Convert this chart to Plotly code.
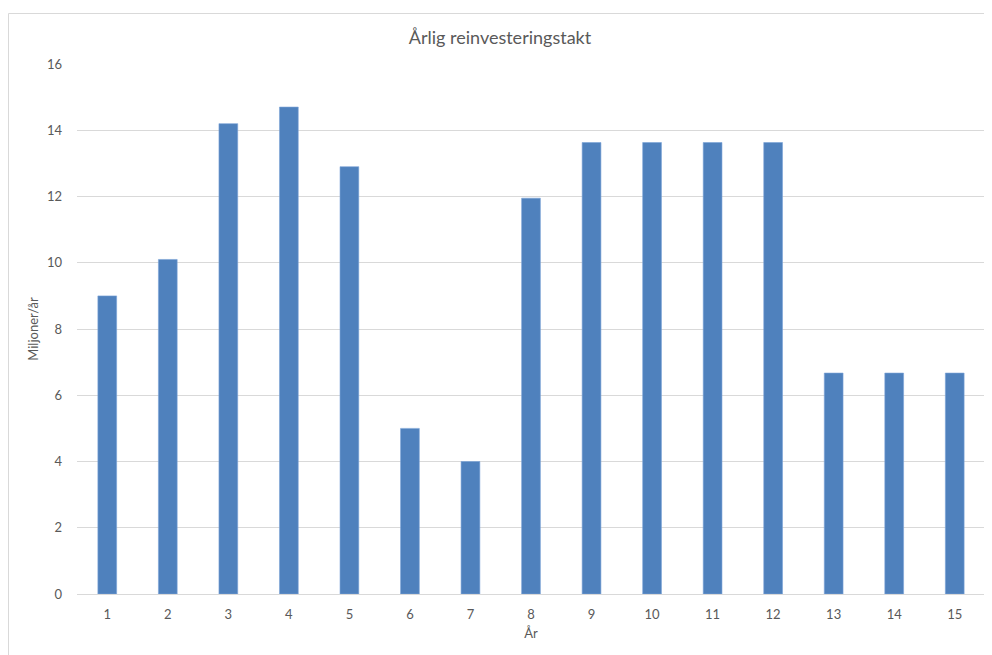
import plotly.graph_objects as go

years = [str(i) for i in range(1, 16)]
values = [9.0, 10.1, 14.2, 14.7, 12.9, 5.0, 4.0, 11.95, 13.63, 13.63, 13.63, 13.63, 6.67, 6.67, 6.67]
y_ticks = [0, 2, 4, 6, 8, 10, 12, 14, 16]

# page body adds an 8px offset, so the figure is sized accordingly
W, H = 984, 647
ml, mr, mt, mb = 69, 7, 56, 61
pw, ph = W - ml - mr, H - mt - mb

fig = go.Figure(go.Bar(
    x=years, y=values,
    marker=dict(color="#4F81BD", line=dict(color="#7BA3D6", width=0.6)),
    width=0.31,
))

font_fam = "Lato, sans-serif"
fig.update_layout(
    width=W, height=H,
    margin=dict(l=ml, r=mr, t=mt, b=mb),
    paper_bgcolor="white", plot_bgcolor="white",
    font=dict(family=font_fam, color="#595959", size=13),
    title=dict(text="Årlig reinvesteringstakt", x=0.5, xanchor="center",
               y=1 - 30 / H, yanchor="middle",
               font=dict(size=18, color="#595959")),
    xaxis=dict(type="category", showgrid=False, showline=True, linecolor="#D9D9D9",
               linewidth=1, ticks="", tickfont=dict(size=13, color="#595959"),
               ticklabelstandoff=8,
               title=dict(text="År", font=dict(size=13, color="#595959"), standoff=8)),
    yaxis=dict(range=[0, 16], tickvals=y_ticks, showgrid=True, gridcolor="#D9D9D9",
               gridwidth=1, zeroline=False, showline=False, ticks="",
               tickfont=dict(size=13, color="#595959"), ticklabelstandoff=14,
               title=dict(text="Miljoner/år", font=dict(size=13, color="#595959"), standoff=5)),
    showlegend=False,
    bargap=0.69,
)

# chart-area border
fig.add_shape(type="rect", xref="paper", yref="paper",
              x0=(0.5 - ml) / pw, x1=(W + 5 - ml) / pw,
              y0=(H - mb - (H + 5)) / ph, y1=(H - mb - 5.5) / ph,
              line=dict(color="#D9D9D9", width=1), layer="below")

fig.write_html("out.html")
